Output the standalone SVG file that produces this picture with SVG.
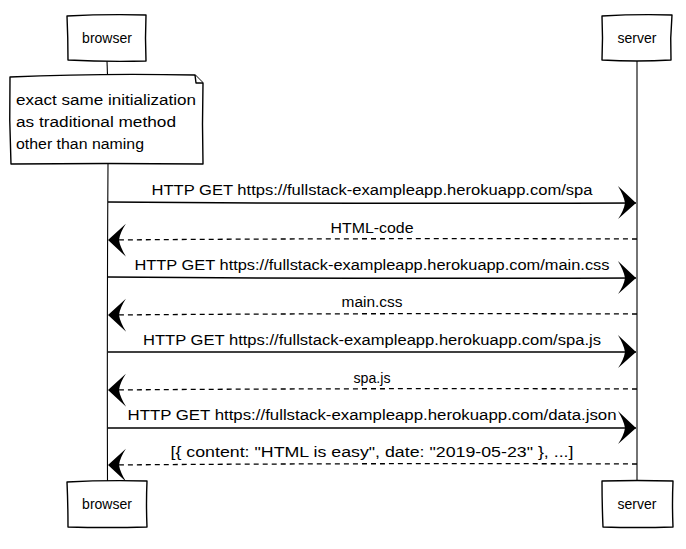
<svg xmlns="http://www.w3.org/2000/svg" width="686" height="549" viewBox="0 0 686 549">
  <style>
    .box { fill: #ffffff; stroke: #000000; stroke-width: 1.4; stroke-linejoin: round; }
    .life { fill: none; stroke: #000000; stroke-width: 1.1; }
    .msg { fill: none; stroke: #000000; stroke-width: 1.5; }
    .ret { fill: none; stroke: #000000; stroke-width: 1.3; stroke-dasharray: 5 4; }
    .lbl { font-family: "Liberation Sans", "DejaVu Sans", sans-serif; font-size: 14px; fill: #000000; }
    .mid { text-anchor: middle; }
  </style>
  <defs>
    <marker id="head" markerUnits="userSpaceOnUse" viewBox="-20 -18 22 36" markerWidth="22" markerHeight="36" refX="0" refY="0" orient="auto">
      <path d="M0,0 L-18,-17 Q-12,-7 -11,0 Q-12,7 -18,16 Z" fill="#000000"/>
    </marker>
  </defs>

  <!-- lifelines -->
  <g id="lifelines">
    <path class="life" d="M107,61 L107.5,75"/>
    <path class="life" d="M108,164 Q107,320 107.5,481"/>
    <path class="life" d="M637,60 Q636.5,270 637,481"/>
  </g>

  <!-- participants, top -->
  <g id="browser-top">
    <path class="box" d="M67,16 Q106,14 146,15 Q145,38 146,61 Q107,62 68,60 Q68,38 67,16 Z"/>
    <text class="lbl mid" x="107" y="43">browser</text>
  </g>
  <g id="server-top">
    <path class="box" d="M602,16 Q637,14 672,15 Q670,38 671,60 Q637,62 602,60 Q603,38 602,16 Z"/>
    <text class="lbl mid" x="637" y="43">server</text>
  </g>

  <!-- note on browser -->
  <g id="note">
    <path class="box" d="M10,77 Q100,73 195,75 L203,83 Q202,124 203,164 Q106,163 11,164 Q9,120 10,77 Z"/>
    <path class="box" d="M195,75 L196,83 L203,83"/>
    <text class="lbl" x="16" y="105" textLength="180" lengthAdjust="spacingAndGlyphs">exact same initialization</text>
    <text class="lbl" x="16" y="127" textLength="160" lengthAdjust="spacingAndGlyphs">as traditional method</text>
    <text class="lbl" x="16" y="149" textLength="128" lengthAdjust="spacingAndGlyphs">other than naming</text>
  </g>

  <!-- messages -->
  <g id="connectors">
    <path class="msg" d="M108,202 Q370,204 636,203" marker-end="url(#head)"/>
    <path class="ret" d="M637,239 Q370,238 108,240" marker-end="url(#head)"/>
    <path class="msg" d="M108,277 Q370,279 636,278" marker-end="url(#head)"/>
    <path class="ret" d="M637,314 Q370,313 108,315" marker-end="url(#head)"/>
    <path class="msg" d="M108,352 Q370,353 636,352" marker-end="url(#head)"/>
    <path class="ret" d="M637,389 Q370,388 108,390" marker-end="url(#head)"/>
    <path class="msg" d="M108,428 Q370,429 636,428" marker-end="url(#head)"/>
    <path class="ret" d="M637,464 Q370,463 108,465" marker-end="url(#head)"/>
  </g>

  <g id="labels">
    <text class="lbl mid" x="372" y="195" textLength="441" lengthAdjust="spacingAndGlyphs">HTTP GET https://fullstack-exampleapp.herokuapp.com/spa</text>
    <text class="lbl mid" x="372" y="233" textLength="83" lengthAdjust="spacingAndGlyphs">HTML-code</text>
    <text class="lbl mid" x="372" y="270" textLength="475" lengthAdjust="spacingAndGlyphs">HTTP GET https://fullstack-exampleapp.herokuapp.com/main.css</text>
    <text class="lbl mid" x="372" y="307" textLength="61" lengthAdjust="spacingAndGlyphs">main.css</text>
    <text class="lbl mid" x="372" y="345" textLength="458" lengthAdjust="spacingAndGlyphs">HTTP GET https://fullstack-exampleapp.herokuapp.com/spa.js</text>
    <text class="lbl mid" x="372" y="383" textLength="37" lengthAdjust="spacingAndGlyphs">spa.js</text>
    <text class="lbl mid" x="372" y="420" textLength="489" lengthAdjust="spacingAndGlyphs">HTTP GET https://fullstack-exampleapp.herokuapp.com/data.json</text>
    <text class="lbl mid" x="372" y="457" textLength="403" lengthAdjust="spacingAndGlyphs">[{ content: "HTML is easy", date: "2019-05-23" }, ...]</text>
  </g>

  <!-- participants, bottom -->
  <g id="browser-bottom">
    <path class="box" d="M67,482 Q105,480 147,481 Q146,504 147,527 Q107,528 68,527 Q68,504 67,482 Z"/>
    <text class="lbl mid" x="107" y="509">browser</text>
  </g>
  <g id="server-bottom">
    <path class="box" d="M602,481 Q637,480 673,481 Q672,504 673,527 Q637,528 603,527 Q602,504 602,481 Z"/>
    <text class="lbl mid" x="637" y="509">server</text>
  </g>
</svg>
